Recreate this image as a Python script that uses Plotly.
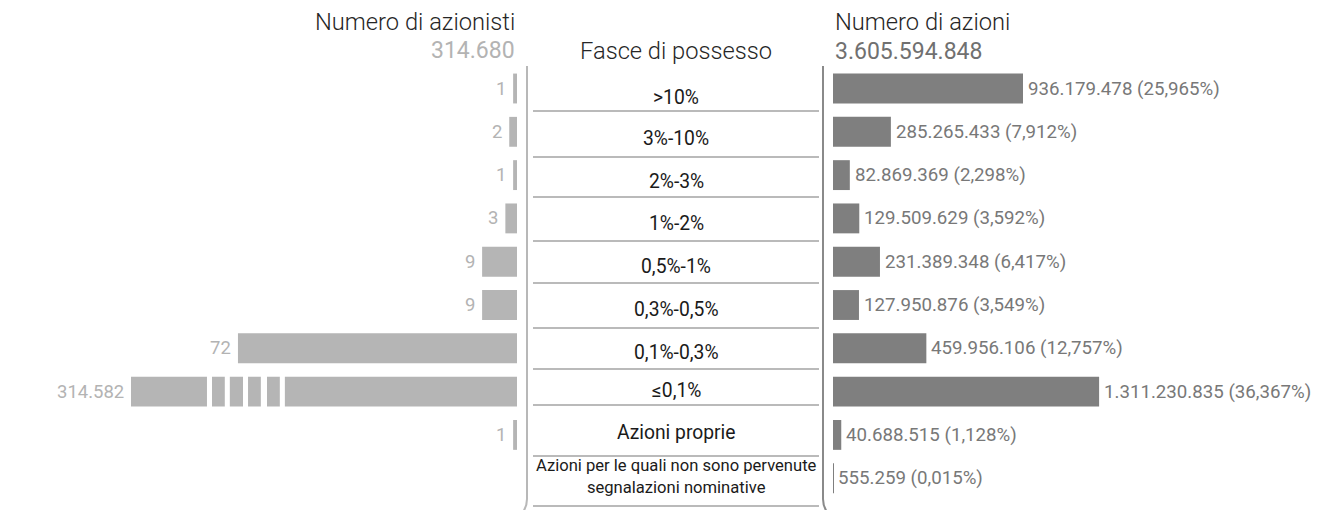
import plotly.graph_objects as go

# Shareholding bands and their data
bands = [">10%", "3%-10%", "2%-3%", "1%-2%", "0,5%-1%", "0,3%-0,5%",
         "0,1%-0,3%", "≤0,1%", "Azioni proprie",
         "Azioni per le quali non sono pervenute<br>segnalazioni nominative"]
holders = [1, 2, 1, 3, 9, 9, 72, 314582, 1, None]
shares = [936179478, 285265433, 82869369, 129509629, 231389348,
          127950876, 459956106, 1311230835, 40688515, 555259]
share_pct = [25.965, 7.912, 2.298, 3.592, 6.417, 3.549, 12.757, 36.367, 1.128, 0.015]

W, H = 1330, 510
FONT = "Roboto"
LEFT_BAR = "#b5b5b5"
LEFT_TXT = "#b3b3b3"
RIGHT_BAR = "#7f7f7f"
RIGHT_TXT = "#787878"
HEAD_TXT = "#262626"


def it_int(n):
    return f"{n:,}".replace(",", ".")


def it_dec(p):
    return f"{p:.3f}".replace(".", ",")


def px(x):
    return x / W


def py(y):
    return 1 - y / H


rows = list(range(len(bands)))
total_holders = sum(v for v in holders if v is not None)
total_shares = sum(shares)

LEFT_MAX = 99.6          # visible extent of the holders axis; longer bars are cut
fig = go.Figure()

fig.add_trace(go.Bar(
    x=[v if v is not None else 0 for v in holders], y=rows, orientation="h",
    xaxis="x", yaxis="y", width=0.69,
    marker=dict(color=LEFT_BAR, line=dict(width=0)),
    hoverinfo="skip", showlegend=False,
))
fig.add_trace(go.Bar(
    x=shares, y=rows, orientation="h",
    xaxis="x2", yaxis="y", width=0.69,
    marker=dict(color=RIGHT_BAR, line=dict(width=0)),
    hoverinfo="skip", showlegend=False,
))

annotations = []
shapes = []

# value labels
for i, v in enumerate(holders):
    if v is None:
        continue
    annotations.append(dict(
        x=min(v, LEFT_MAX), y=i, xref="x", yref="y",
        text=it_int(v), showarrow=False, xanchor="right", yanchor="middle",
        xshift=-5, font=dict(family=FONT, size=18.5, color=LEFT_TXT),
    ))
for i, (v, p) in enumerate(zip(shares, share_pct)):
    annotations.append(dict(
        x=v, y=i, xref="x2", yref="y",
        text=f"{it_int(v)} ({it_dec(p)}%)", showarrow=False,
        xanchor="left", yanchor="middle", xshift=3,
        font=dict(family=FONT, size=18.7, color=RIGHT_TXT),
    ))

# break marks on the truncated holders bar
big = holders.index(max(v for v in holders if v is not None))
for g0, g1 in [(78.7, 80.0), (74.1, 75.4), (69.4, 70.7), (64.5, 66.1), (59.9, 61.2)]:
    shapes.append(dict(type="rect", xref="x", yref="y", x0=g0, x1=g1,
                       y0=big - 0.45, y1=big + 0.45, fillcolor="white",
                       line=dict(width=0), layer="above"))

# headers
annotations += [
    dict(x=px(517), y=py(22), text="Numero di azionisti", xanchor="right",
         font=dict(family=FONT, size=23.7, color=HEAD_TXT, weight=300)),
    dict(x=px(517), y=py(51), text=it_int(total_holders), xanchor="right",
         font=dict(family=FONT, size=23, color=LEFT_TXT)),
    dict(x=px(676), y=py(51), text="Fasce di possesso", xanchor="center",
         font=dict(family=FONT, size=23.7, color=HEAD_TXT, weight=300)),
    dict(x=px(833), y=py(22), text="Numero di azioni", xanchor="left",
         font=dict(family=FONT, size=23.7, color=HEAD_TXT, weight=300)),
    dict(x=px(833), y=py(52), text=it_int(total_shares), xanchor="left",
         font=dict(family=FONT, size=23, color="#707070")),
]
for a in annotations[-5:]:
    a.update(xref="paper", yref="paper", yanchor="middle", showarrow=False)

# middle column: band names with separators
label_y = [97, 139, 181, 223, 266, 309, 352, 390, 432, 476]
sep_y = [111, 157, 197, 241, 283, 328, 369, 405, 456, 506]
for name, ly in zip(bands, label_y):
    small = "<br>" in name
    annotations.append(dict(
        x=px(676), y=py(ly), xref="paper", yref="paper", text=name,
        showarrow=False, xanchor="center", yanchor="middle",
        font=dict(family=FONT, size=16.6 if small else 19.3, color="#1a1a1a"),
    ))
for sy in sep_y:
    shapes.append(dict(type="line", xref="paper", yref="paper",
                       x0=px(533), x1=px(819), y0=py(sy), y1=py(sy),
                       line=dict(color="#a3a3a3", width=1.6)))

# side brackets of the middle column
shapes.append(dict(
    type="path", xref="paper", yref="paper",
    path=(f"M {px(527)},{py(66)} L {px(527)},{py(499)} "
          f"Q {px(527)},{py(506)} {px(523)},{py(512)}"),
    line=dict(color="#b8b8b8", width=2),
))
shapes.append(dict(
    type="path", xref="paper", yref="paper",
    path=(f"M {px(823)},{py(66)} L {px(823)},{py(499)} "
          f"Q {px(823)},{py(506)} {px(827)},{py(512)}"),
    line=dict(color="#8a8a8a", width=2),
))

hidden = dict(showgrid=False, zeroline=False, showticklabels=False,
              showline=False, ticks="", fixedrange=True)
fig.update_layout(
    width=W, height=H,
    margin=dict(l=0, r=0, t=0, b=0),
    paper_bgcolor="white", plot_bgcolor="white",
    barmode="overlay",
    xaxis=dict(domain=[px(131), px(517)], range=[LEFT_MAX, 0], **hidden),
    xaxis2=dict(domain=[px(833), 1.0], range=[0, 2.4489e9], anchor="y", **hidden),
    yaxis=dict(domain=[0, 1], range=[9.734, -2.044], **hidden),
    annotations=annotations,
    shapes=shapes,
    font=dict(family=FONT),
)

fig.write_html("out.html")
